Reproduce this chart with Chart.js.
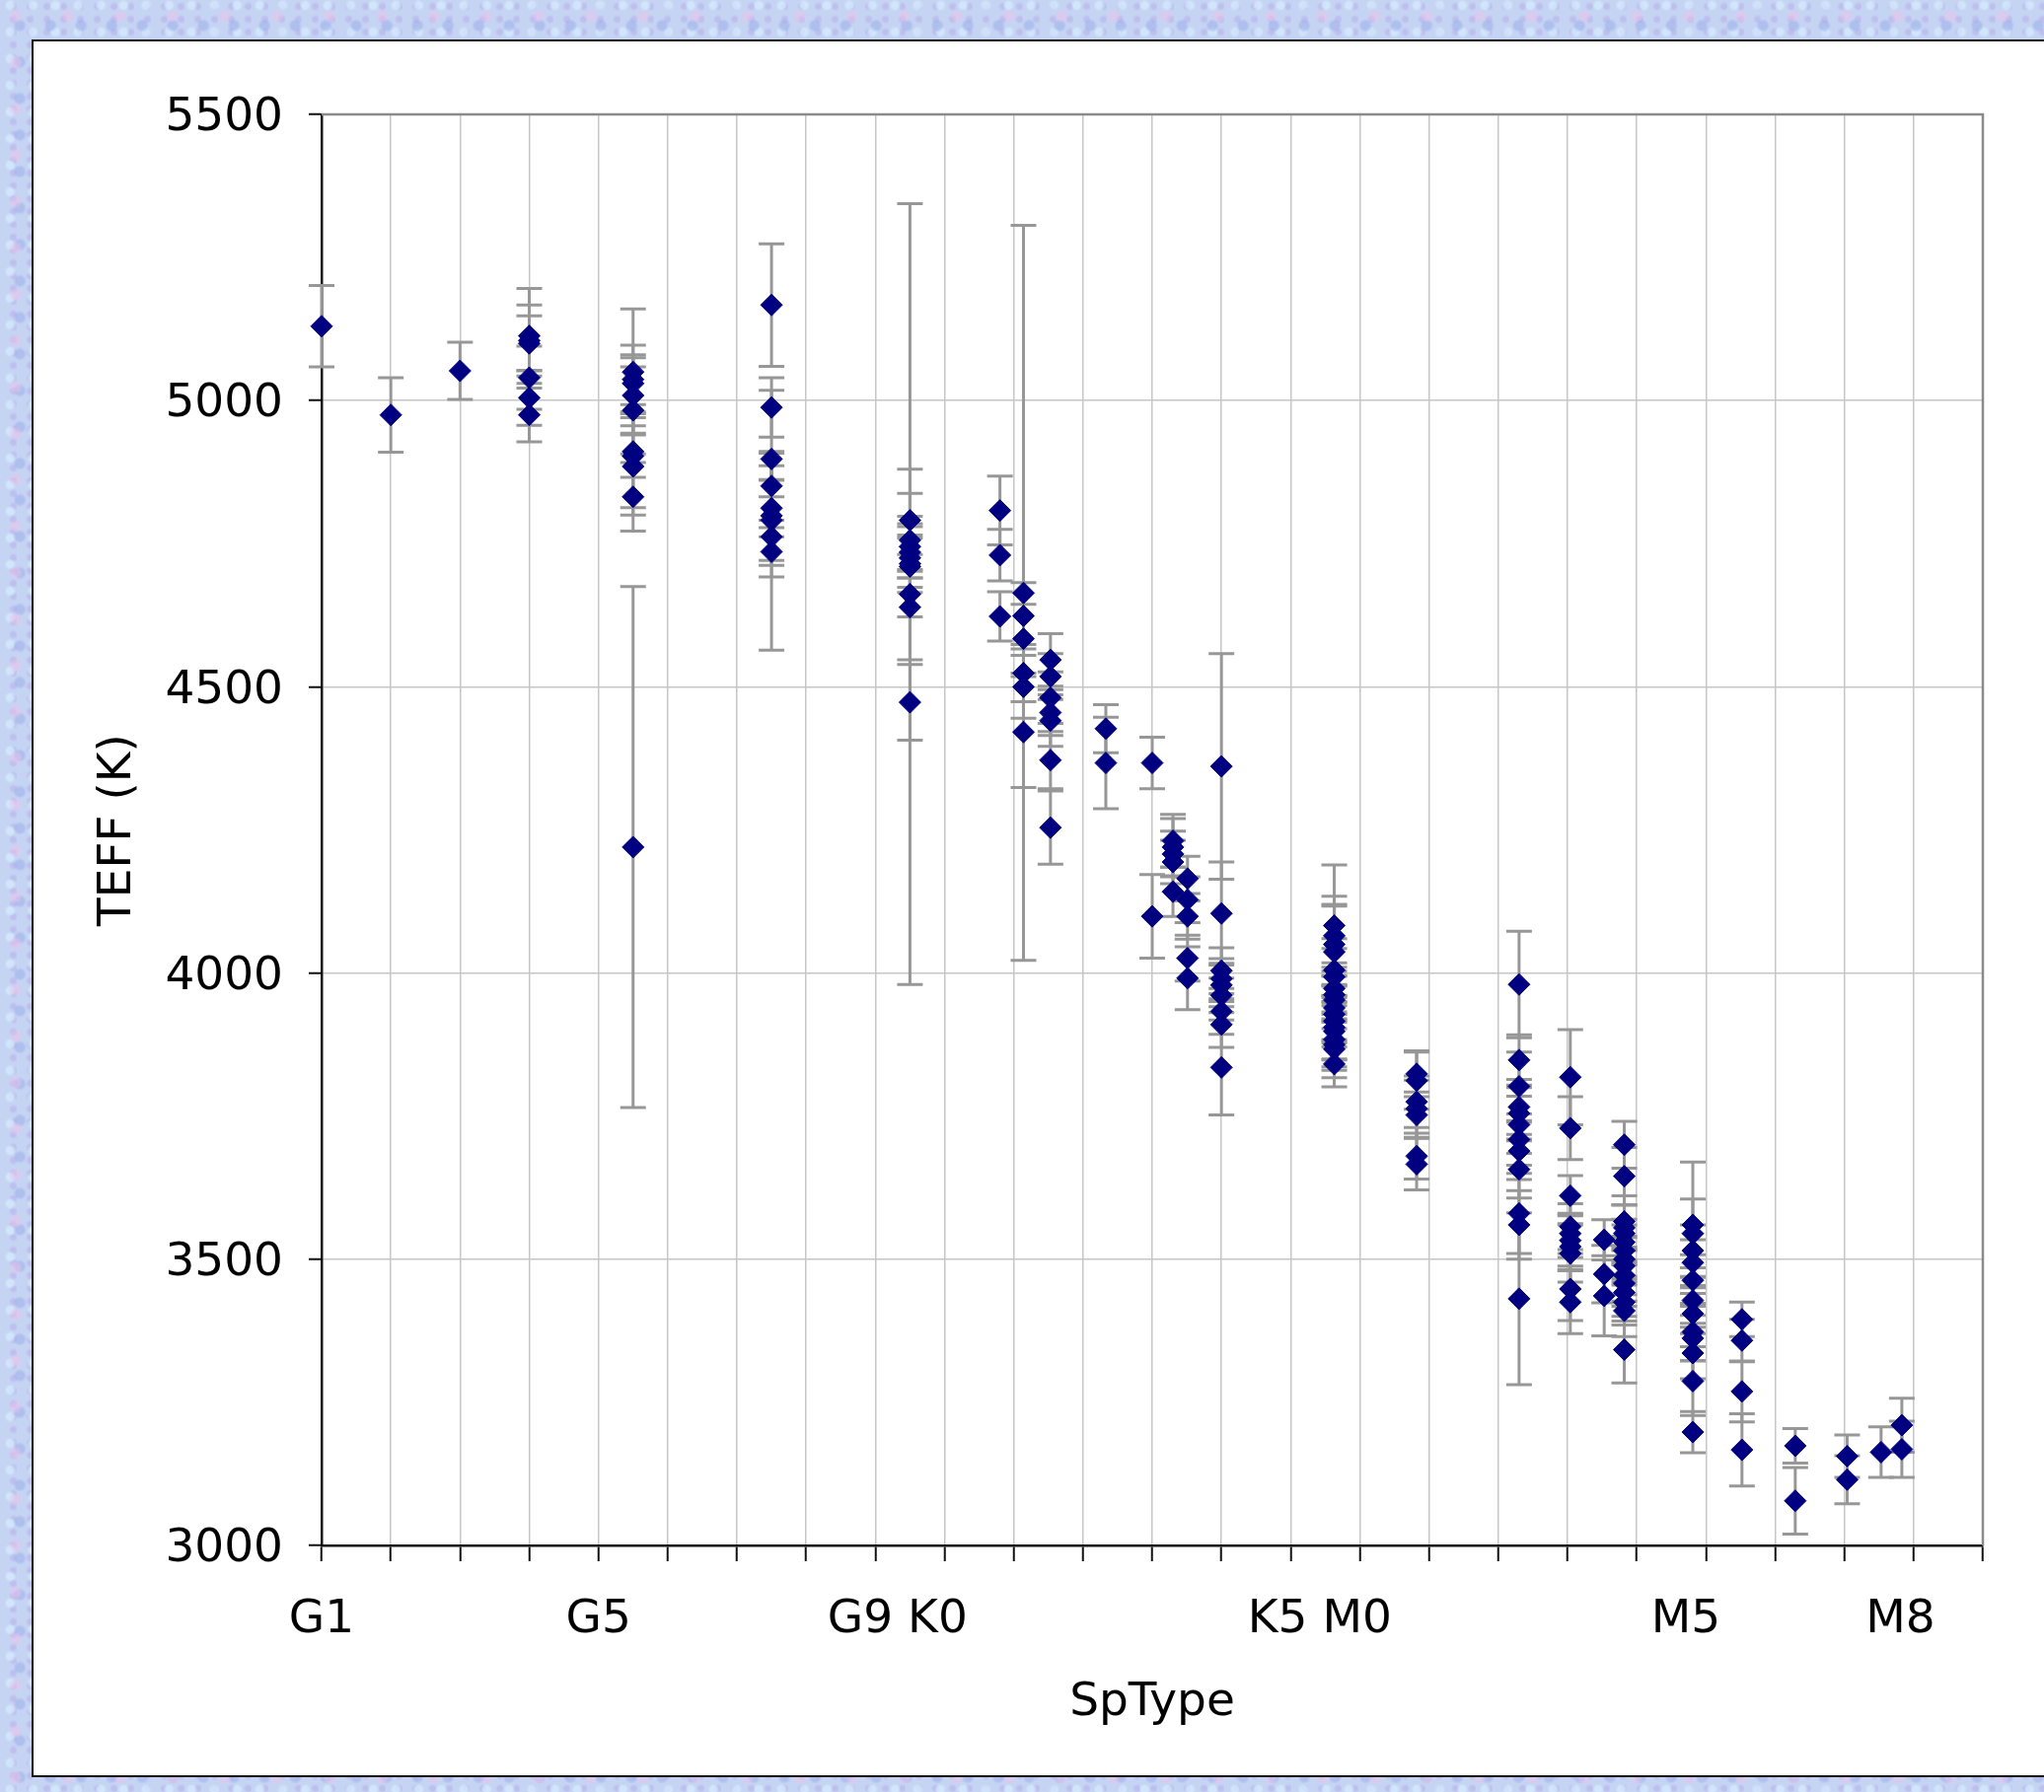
<!DOCTYPE html>
<html>
<head>
<meta charset="utf-8">
<script src="https://cdn.jsdelivr.net/npm/chart.js@4/dist/chart.umd.min.js"></script>
<style>
  html, body { margin: 0; padding: 0; width: 2072px; height: 1817px; overflow: hidden; }
  body {
    position: relative;
    background:
      radial-gradient(circle at 30% 35%, rgba(236,192,234,0.5) 0 4px, transparent 7px) 0 0 / 53px 47px,
      radial-gradient(circle at 65% 70%, rgba(150,170,232,0.5) 0 4px, transparent 7px) 0 0 / 31px 37px,
      radial-gradient(circle at 45% 20%, rgba(214,238,255,0.7) 0 3px, transparent 6px) 0 0 / 23px 27px,
      radial-gradient(circle at 80% 50%, rgba(176,160,230,0.4) 0 2px, transparent 5px) 0 0 / 17px 13px,
      #c6d4f3;
  }
  #box {
    position: absolute; left: 32px; top: 40px; width: 2100px; height: 1758px;
    background: #ffffff; border: 2px solid #111111;
  }
  #c { position: absolute; left: 0; top: 0; width: 2072px; height: 1817px; }
</style>
</head>
<body>
<div id="box"></div>
<canvas id="c" width="2072" height="1817"></canvas>
<script>
// Spectral-type position of each group (G1 = 0 ... one unit per subclass)
const groupX = [0, 1, 2, 3, 4.5, 6.5, 8.5, 9.8, 10.14, 10.53, 11.33, 12, 12.3, 12.51, 13,
                14.63, 15.82, 17.3, 18.04, 18.53, 18.82, 19.81, 20.52, 21.29, 22.04, 22.53, 22.83];

// Effective temperatures (K) for each group
const groupTeff = [
  [5130],
  [4975],
  [5052],
  [5113, 5105, 5100, 5040, 5005, 4975],
  [5050, 5037, 5030, 5009, 4983, 4911, 4903, 4885, 4832, 4220],
  [5167, 4988, 4898, 4851, 4812, 4799, 4791, 4762, 4736],
  [4791, 4756, 4745, 4735, 4725, 4715, 4710, 4662, 4639, 4473],
  [4808, 4730, 4623],
  [4664, 4624, 4584, 4524, 4500, 4421],
  [4547, 4518, 4481, 4455, 4441, 4372, 4254],
  [4427, 4367],
  [4367, 4099],
  [4231, 4220, 4208, 4194, 4142],
  [4165, 4128, 4099, 4026, 3991],
  [4361, 4104, 4004, 3990, 3979, 3961, 3933, 3910, 3835],
  [4083, 4065, 4050, 4037, 4005, 3993, 3973, 3962, 3953, 3939, 3928, 3916, 3905, 3898, 3884, 3875, 3867, 3841],
  [3824, 3812, 3775, 3763, 3752, 3680, 3666],
  [3980, 3848, 3802, 3766, 3755, 3735, 3709, 3689, 3657, 3580, 3560, 3431],
  [3818, 3729, 3611, 3557, 3545, 3533, 3522, 3510, 3448, 3425],
  [3534, 3474, 3436],
  [3700, 3645, 3566, 3555, 3545, 3530, 3515, 3500, 3488, 3472, 3458, 3442, 3425, 3410, 3342],
  [3560, 3545, 3515, 3494, 3463, 3428, 3405, 3373, 3362, 3336, 3287, 3198],
  [3395, 3358, 3269, 3167],
  [3174, 3078],
  [3156, 3115],
  [3163],
  [3210, 3168]
];

// Symmetric TEFF errors (K), same layout as groupTeff
const groupErr = [
  [71],
  [65],
  [50],
  [83, 62, 48, 55, 48, 47],
  [110, 60, 50, 66, 76, 45, 90, 85, 60, 455],
  [107, 52, 120, 60, 50, 87, 70, 70, 172],
  [89, 82, 40, 45, 35, 50, 88, 682, 92, 66],
  [60, 45, 43],
  [642, 58, 60, 50, 55, 97],
  [46, 40, 45, 40, 45, 50, 64],
  [42, 80],
  [45, 73],
  [46, 50, 40, 38, 43],
  [39, 40, 40, 40, 55],
  [197, 90, 40, 35, 38, 30, 40, 40, 83],
  [106, 69, 70, 80, 55, 50, 45, 48, 50, 55, 50, 45, 55, 50, 48, 45, 50, 40],
  [40, 50, 45, 50, 40, 40, 45],
  [93, 44, 60, 48, 45, 50, 45, 50, 50, 70, 60, 150],
  [83, 55, 35, 40, 35, 45, 40, 50, 55, 55],
  [35, 50, 70],
  [41, 50, 45, 40, 50, 40, 45, 40, 50, 45, 40, 50, 40, 45, 58],
  [110, 60, 45, 40, 45, 40, 35, 50, 40, 45, 60, 36],
  [30, 37, 53, 63],
  [30, 58],
  [37, 42],
  [44],
  [47, 49]
];

// Axis tick labels
const xLabelPos = [0, 4, 8.32, 14.42, 19.71, 22.81];
const xLabelText = ['G1', 'G5', 'G9 K0', 'K5 M0', 'M5', 'M8'];
const xMin = 0, xMax = 24;
const yTicks = [3000, 3500, 4000, 4500, 5000, 5500];

const points = [];
const errs = [];
groupX.forEach((x, i) => {
  groupTeff[i].forEach((t, j) => {
    points.push({ x: x, y: t });
    errs.push(groupErr[i][j]);
  });
});

const errorBarPlugin = {
  id: 'errorBars',
  beforeDatasetsDraw(chart) {
    const { ctx, chartArea, scales } = chart;
    const xs = scales.x, ys = scales.y;
    ctx.save();
    // plot-area frame (top and right)
    ctx.strokeStyle = '#8a8a8a';
    ctx.lineWidth = 2.5;
    ctx.beginPath();
    ctx.moveTo(chartArea.left, chartArea.top);
    ctx.lineTo(chartArea.right, chartArea.top);
    ctx.lineTo(chartArea.right, chartArea.bottom);
    ctx.stroke();
    // error bars
    ctx.strokeStyle = '#979797';
    ctx.lineWidth = 3;
    const cap = 13;
    points.forEach((p, k) => {
      const px = xs.getPixelForValue(p.x);
      const yTop = ys.getPixelForValue(p.y + errs[k]);
      const yBot = ys.getPixelForValue(p.y - errs[k]);
      ctx.beginPath();
      ctx.moveTo(px, yTop); ctx.lineTo(px, yBot);
      ctx.moveTo(px - cap, yTop); ctx.lineTo(px + cap, yTop);
      ctx.moveTo(px - cap, yBot); ctx.lineTo(px + cap, yBot);
      ctx.stroke();
    });
    ctx.restore();
  }
};

Chart.defaults.font.family = "'DejaVu Sans', Verdana, sans-serif";
Chart.defaults.color = '#000000';

const isGridTick = (c) => c.tick && Number.isInteger(c.tick.value);

new Chart(document.getElementById('c'), {
  type: 'scatter',
  data: {
    datasets: [{
      data: points,
      pointStyle: 'rectRot',
      pointRadius: 11,
      pointBorderWidth: 1,
      backgroundColor: '#000080',
      borderColor: '#000080',
      clip: false
    }]
  },
  options: {
    responsive: false,
    animation: false,
    devicePixelRatio: 1,
    layout: { padding: { left: 33, top: 116, right: 62, bottom: 17 } },
    plugins: { legend: { display: false }, tooltip: { enabled: false } },
    scales: {
      x: {
        type: 'linear',
        position: 'bottom',
        min: xMin,
        max: xMax,
        afterBuildTicks: (scale) => {
          const t = [];
          for (let v = xMin; v <= xMax; v++) t.push({ value: v });
          xLabelPos.forEach(v => { if (!Number.isInteger(v)) t.push({ value: v }); });
          t.sort((a, b) => a.value - b.value);
          scale.ticks = t;
        },
        afterFit: (scale) => { scale.height = 233; },
        ticks: {
          autoSkip: false,
          maxRotation: 0,
          minRotation: 0,
          padding: 32,
          font: { size: 47 },
          color: '#000000',
          callback: (v) => {
            const i = xLabelPos.indexOf(v);
            return i >= 0 ? xLabelText[i] : '';
          }
        },
        grid: {
          color: (c) => isGridTick(c) ? '#c6c6c6' : 'rgba(0,0,0,0)',
          tickColor: (c) => isGridTick(c) ? '#111111' : 'rgba(0,0,0,0)',
          lineWidth: 1.5,
          tickLength: 16,
          tickWidth: 2
        },
        border: { display: true, color: '#111111', width: 2.5 },
        title: {
          display: true,
          text: 'SpType',
          font: { size: 47 },
          color: '#000000',
          padding: { top: 0, bottom: 45 }
        }
      },
      y: {
        type: 'linear',
        position: 'left',
        min: 3000,
        max: 5500,
        afterBuildTicks: (scale) => { scale.ticks = yTicks.map(v => ({ value: v })); },
        afterFit: (scale) => { scale.width = 293; },
        ticks: {
          padding: 26,
          labelOffset: 4,
          font: { size: 47 },
          color: '#000000',
          callback: (v) => String(v)
        },
        grid: {
          color: '#c6c6c6',
          tickColor: '#111111',
          lineWidth: 1.5,
          tickLength: 13,
          tickWidth: 2
        },
        border: { display: true, color: '#111111', width: 2.5 },
        title: {
          display: true,
          text: 'TEFF (K)',
          font: { size: 47 },
          color: '#000000',
          padding: { top: 59, bottom: 0 }
        }
      }
    }
  },
  plugins: [errorBarPlugin]
});
</script>
</body>
</html>
